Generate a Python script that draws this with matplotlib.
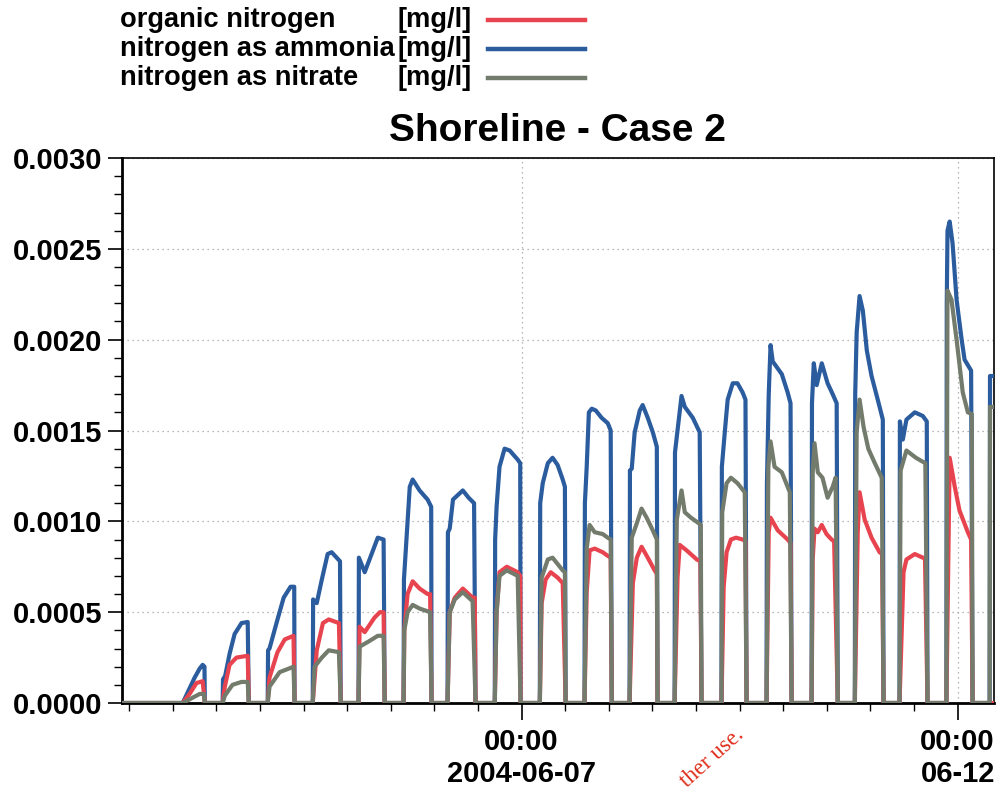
import matplotlib
matplotlib.use("Agg")
import matplotlib.pyplot as plt
import matplotlib.dates as mdates
import matplotlib.ticker as mticker
from matplotlib.lines import Line2D
import pandas as pd

# time in hours relative to 2004-06-07 00:00, values in mg/l (one row per tidal pulse)
T0 = pd.Timestamp("2004-06-07 00:00")

AMMONIA = [
    [(-93.3, 0), (-91.4, 0.00008), (-90.0, 0.00014), (-88.6, 0.00019), (-87.8, 0.00021), (-87.3, 0.0002), (-87.2, 0)],
    [(-82.3, 0), (-82.2, 0.00013), (-81.6, 0.00015), (-80.4, 0.00027), (-79.0, 0.00038), (-77.1, 0.00044), (-75.4, 0.000446), (-75.1, 0)],
    [(-69.9, 0), (-69.8, 0.00029), (-69.4, 0.0003), (-67.2, 0.00046), (-65.5, 0.00058), (-63.6, 0.00064), (-62.6, 0.00064), (-62.5, 0)],
    [(-57.5, 0), (-57.4, 0.00057), (-56.4, 0.00055), (-55.0, 0.00068), (-53.4, 0.00082), (-52.3, 0.00083), (-50.0, 0.00078), (-49.8, 0)],
    [(-44.9, 0), (-44.8, 0.0008), (-43.2, 0.00072), (-39.6, 0.00091), (-38.0, 0.0009), (-37.7, 0)],
    [(-32.5, 0), (-32.4, 0.00068), (-30.8, 0.00119), (-30.0, 0.00123), (-28.1, 0.00117), (-25.9, 0.00112), (-24.9, 0.00108), (-24.8, 0)],
    [(-20.4, 0), (-20.3, 0.00094), (-19.8, 0.00096), (-18.9, 0.00112), (-16.2, 0.00117), (-14.6, 0.00113), (-13.1, 0.0011), (-12.7, 0)],
    [(-7.4, 0), (-7.3, 0.0009), (-6.9, 0.00108), (-6.1, 0.0013), (-4.7, 0.0014), (-3.3, 0.00139), (-1.1, 0.00134), (-0.4, 0.00132), (-0.3, 0)],
    [(5.0, 0), (5.1, 0.0011), (5.8, 0.00121), (7.2, 0.00132), (8.5, 0.00135), (9.9, 0.00131), (11.3, 0.00123), (11.9, 0.00119), (12.1, 0)],
    [(17.3, 0), (17.4, 0.0011), (17.9, 0.0013), (18.5, 0.0016), (19.3, 0.00162), (20.4, 0.00161), (22.0, 0.00157), (23.7, 0.00154), (24.5, 0.0015), (24.8, 0)],
    [(29.7, 0), (29.8, 0.00128), (30.3, 0.00129), (31.1, 0.00149), (32.5, 0.00161), (33.3, 0.00164), (34.7, 0.00157), (36.1, 0.00149), (37.2, 0.00141), (37.4, 0)],
    [(42.1, 0), (42.2, 0.00138), (42.9, 0.0015), (44.0, 0.00169), (44.9, 0.00163), (47.1, 0.00157), (49.0, 0.00149), (49.5, 0)],
    [(55.0, 0), (55.1, 0.0013), (55.9, 0.00149), (56.7, 0.00167), (58.1, 0.00176), (59.4, 0.00176), (60.8, 0.00171), (61.6, 0.00167), (61.9, 0)],
    [(67.4, 0), (67.5, 0.0012), (68.0, 0.0017), (68.5, 0.00197), (69.1, 0.00188), (71.6, 0.00181), (73.2, 0.00171), (74.0, 0.00165), (74.3, 0)],
    [(79.8, 0), (79.9, 0.00165), (80.4, 0.00187), (81.2, 0.00175), (82.6, 0.00187), (84.2, 0.00176), (85.6, 0.0017), (86.7, 0.00165), (87.0, 0)],
    [(91.7, 0), (91.8, 0.0017), (92.2, 0.00204), (93.0, 0.00224), (93.9, 0.00216), (95.0, 0.00194), (96.3, 0.0018), (98.0, 0.00167), (99.4, 0.00156), (99.6, 0)],
    [(104.0, 0), (104.1, 0.00155), (104.9, 0.00145), (105.9, 0.00156), (108.2, 0.0016), (110.4, 0.00158), (111.5, 0.00155), (111.7, 0)],
    [(116.9, 0), (117.0, 0.0022), (117.2, 0.0026), (117.8, 0.00265), (118.6, 0.00253), (119.7, 0.00222), (121.1, 0.002), (121.9, 0.00189), (123.7, 0.00183), (124.1, 0)],
    [(128.8, 0), (128.9, 0.0018), (131.0, 0.0018)],
]

ORGANIC = [
    [(-93.3, 0), (-91.4, 0.00005), (-89.5, 0.00011), (-87.8, 0.00012), (-87.2, 0)],
    [(-82.3, 0), (-81.7, 0.00009), (-80.4, 0.00021), (-78.5, 0.00025), (-75.4, 0.00026), (-75.1, 0)],
    [(-69.9, 0), (-69.4, 0.00014), (-67.2, 0.00028), (-65.2, 0.00035), (-62.8, 0.00037), (-62.5, 0)],
    [(-57.5, 0), (-56.4, 0.00029), (-54.7, 0.00044), (-53.1, 0.00046), (-50.3, 0.00044), (-49.8, 0)],
    [(-44.9, 0), (-44.6, 0.00042), (-43.2, 0.00039), (-40.5, 0.00047), (-39.0, 0.0005), (-38.0, 0.0005), (-37.7, 0)],
    [(-32.5, 0), (-32.3, 0.0004), (-31.4, 0.0006), (-30.0, 0.00067), (-28.1, 0.00063), (-25.9, 0.0006), (-25.2, 0.0006), (-24.8, 0)],
    [(-20.4, 0), (-19.8, 0.0005), (-18.4, 0.00058), (-16.2, 0.00063), (-13.5, 0.00058), (-12.9, 0.00058), (-12.7, 0)],
    [(-7.4, 0), (-6.9, 0.0005), (-6.1, 0.00072), (-4.1, 0.00075), (-1.1, 0.00072), (-0.4, 0.0007), (-0.3, 0)],
    [(5.0, 0), (5.5, 0.00055), (6.6, 0.00068), (8.0, 0.00072), (9.9, 0.00069), (11.3, 0.00066), (12.1, 0)],
    [(17.3, 0), (17.9, 0.00061), (18.7, 0.00084), (20.1, 0.00085), (22.3, 0.00083), (23.7, 0.00081), (24.5, 0.0008), (24.8, 0)],
    [(29.7, 0), (30.6, 0.00066), (31.7, 0.0008), (33.0, 0.00086), (34.7, 0.0008), (36.6, 0.00073), (37.2, 0.00071), (37.4, 0)],
    [(42.1, 0), (42.9, 0.00069), (43.5, 0.00087), (45.4, 0.00084), (48.2, 0.00079), (49.2, 0.00078), (49.5, 0)],
    [(55.0, 0), (55.6, 0.00064), (56.4, 0.00083), (57.6, 0.0009), (59.0, 0.00091), (60.8, 0.0009), (61.6, 0.00089), (61.9, 0)],
    [(67.4, 0), (68.0, 0.00094), (68.5, 0.00102), (70.5, 0.00095), (73.2, 0.0009), (74.0, 0.00088), (74.3, 0)],
    [(79.8, 0), (80.1, 0.00079), (80.6, 0.00096), (81.5, 0.00094), (82.6, 0.00098), (83.9, 0.00093), (85.3, 0.0009), (86.0, 0.00089), (87.0, 0)],
    [(91.7, 0), (92.5, 0.00094), (93.0, 0.00116), (94.4, 0.00101), (96.3, 0.00091), (98.5, 0.00083), (99.2, 0.00082), (99.6, 0)],
    [(104.0, 0), (105.1, 0.00072), (105.9, 0.00079), (108.2, 0.00082), (110.4, 0.0008), (111.0, 0.0008), (111.7, 0)],
    [(116.9, 0), (117.8, 0.00135), (119.2, 0.00119), (120.5, 0.00106), (122.8, 0.00094), (123.7, 0.0009), (124.1, 0)],
]

NITRATE = [
    [(-93.3, 0), (-90.5, 0.00003), (-88.6, 0.00005), (-87.5, 0.00005), (-87.2, 0)],
    [(-82.3, 0), (-81.7, 0.00004), (-79.6, 0.0001), (-77.1, 0.000116), (-75.4, 0.000116), (-75.1, 0)],
    [(-69.9, 0), (-69.4, 0.00009), (-66.6, 0.00017), (-64.0, 0.00019), (-62.8, 0.0002), (-62.5, 0)],
    [(-57.5, 0), (-57.0, 0.0002), (-55.0, 0.00025), (-53.1, 0.00029), (-50.3, 0.00028), (-49.8, 0)],
    [(-44.9, 0), (-44.6, 0.00031), (-42.0, 0.00034), (-39.6, 0.00037), (-38.0, 0.00037), (-37.7, 0)],
    [(-32.5, 0), (-32.3, 0.0004), (-31.4, 0.0005), (-30.0, 0.00054), (-28.1, 0.00052), (-25.2, 0.0005), (-24.8, 0)],
    [(-20.4, 0), (-19.8, 0.0005), (-18.4, 0.00057), (-16.2, 0.00061), (-13.5, 0.00056), (-12.7, 0)],
    [(-7.4, 0), (-6.9, 0.0005), (-6.1, 0.0007), (-4.1, 0.00073), (-1.1, 0.0007), (-0.3, 0)],
    [(5.0, 0), (5.5, 0.00069), (7.2, 0.00079), (8.5, 0.0008), (11.3, 0.00073), (11.9, 0.00072), (12.1, 0)],
    [(17.3, 0), (17.9, 0.00085), (18.7, 0.00098), (20.1, 0.00094), (22.3, 0.00093), (23.7, 0.00091), (24.5, 0.0009), (24.8, 0)],
    [(29.7, 0), (30.3, 0.00091), (31.7, 0.00099), (33.0, 0.00107), (34.4, 0.00102), (36.1, 0.00095), (37.2, 0.0009), (37.4, 0)],
    [(42.1, 0), (42.7, 0.00101), (44.0, 0.00117), (44.9, 0.00105), (46.6, 0.00102), (48.7, 0.00099), (49.3, 0.00098), (49.5, 0)],
    [(55.0, 0), (55.2, 0.00105), (56.4, 0.00121), (57.6, 0.00124), (59.4, 0.00121), (61.4, 0.00116), (61.9, 0)],
    [(67.4, 0), (67.9, 0.0013), (68.5, 0.00144), (69.6, 0.0013), (71.6, 0.00127), (73.8, 0.00116), (74.3, 0)],
    [(79.8, 0), (80.1, 0.00127), (80.6, 0.00143), (81.5, 0.00127), (82.8, 0.00124), (84.2, 0.00113), (85.6, 0.00119), (86.4, 0.00124), (87.0, 0)],
    [(91.7, 0), (92.2, 0.00149), (93.0, 0.00167), (94.1, 0.00152), (95.4, 0.0014), (97.2, 0.00132), (99.1, 0.00124), (99.6, 0)],
    [(104.0, 0), (104.3, 0.00128), (105.9, 0.00139), (108.5, 0.00135), (111.1, 0.00132), (111.7, 0)],
    [(116.9, 0), (117.2, 0.00227), (118.3, 0.00222), (119.7, 0.002), (121.4, 0.00171), (122.8, 0.0016), (123.9, 0.00159), (124.1, 0)],
    [(128.8, 0), (128.9, 0.00163), (131.0, 0.00163)],
]

X_START_H = -110.0
X_END_H = 130.0

LEGEND_NAMES = ["organic nitrogen", "nitrogen as ammonia", "nitrogen as nitrate"]
UNIT = "[mg/l]"
TITLE = "Shoreline - Case 2"

C_RED = "#e8444f"
C_BLUE = "#2b5c9e"
C_GREEN = "#737b6c"

FONT = ["Liberation Sans", "DejaVu Sans"]
plt.rcParams["font.family"] = FONT
plt.rcParams["font.weight"] = "bold"


def to_series(pulses):
    hrs, vals = [X_START_H], [0.0]
    for p in pulses:
        for h, v in p:
            hrs.append(h)
            vals.append(v)
    hrs.append(X_END_H + 1)
    vals.append(0.0)
    t = T0 + pd.to_timedelta(hrs, unit="h")
    return t, vals


fig = plt.figure(figsize=(10.02, 7.92), dpi=100)
ax = fig.add_axes([122 / 1002, 1 - 703 / 792, (994 - 122) / 1002, (703 - 158) / 792])

for pulses, col in [(AMMONIA, C_BLUE), (ORGANIC, C_RED), (NITRATE, C_GREEN)]:
    t, v = to_series(pulses)
    ax.plot(t, v, color=col, lw=3.0, solid_joinstyle="round", zorder=3)

ax.set_xlim(T0 + pd.Timedelta(hours=X_START_H), T0 + pd.Timedelta(hours=X_END_H))
ax.set_ylim(0, 0.003)

ax.yaxis.set_major_locator(mticker.MultipleLocator(0.0005))
ax.yaxis.set_minor_locator(mticker.MultipleLocator(0.0001))
ax.yaxis.set_major_formatter(mticker.FormatStrFormatter("%.4f"))

major_days = [pd.Timestamp("2004-06-07"), pd.Timestamp("2004-06-12")]
ax.xaxis.set_major_locator(mticker.FixedLocator(mdates.date2num(major_days)))
ax.xaxis.set_major_formatter(mticker.FixedFormatter(["00:00\n2004-06-07", "00:00\n06-12"]))
ax.xaxis.set_minor_locator(mdates.HourLocator(byhour=[0, 12]))

ax.tick_params(axis="both", which="major", direction="out", length=10, width=1.2,
               labelsize=21, pad=4)
ax.tick_params(axis="both", which="minor", direction="out", length=6, width=1.0)
ax.tick_params(axis="x", which="major", length=12, pad=6)
for lab in ax.get_xticklabels() + ax.get_yticklabels():
    lab.set_fontweight("bold")

ax.grid(True, which="major", color="#a0a0a0", linestyle=(0, (1, 3)), lw=0.9)
for side in ["left", "bottom"]:
    ax.spines[side].set_linewidth(2.0)
for side in ["top", "right"]:
    ax.spines[side].set_linewidth(1.2)

fig.text(0.556, 1 - 131 / 792, TITLE, ha="center", va="center", fontsize=28, fontweight="bold")

# legend block at the top left
row_y = [20, 49, 78]
for name, y, col in zip(LEGEND_NAMES, row_y, [C_RED, C_BLUE, C_GREEN]):
    fy = 1 - y / 792
    fig.text(120 / 1002, fy, name, ha="left", va="center", fontsize=19.6, fontweight="bold")
    fig.text(472 / 1002, fy, UNIT, ha="right", va="center", fontsize=19.6, fontweight="bold")
    fig.add_artist(Line2D([488 / 1002, 585 / 1002], [fy, fy], color=col, lw=3.2,
                          transform=fig.transFigure))

# partial watermark visible in the scan
fig.text(712 / 1002, 1 - 758 / 792, "ther use.", rotation=42, ha="center", va="center",
         fontsize=16.5, color="#e0301e", family=["Liberation Serif", "DejaVu Serif"],
         fontweight="normal")

fig.savefig("out.png", dpi=100)
